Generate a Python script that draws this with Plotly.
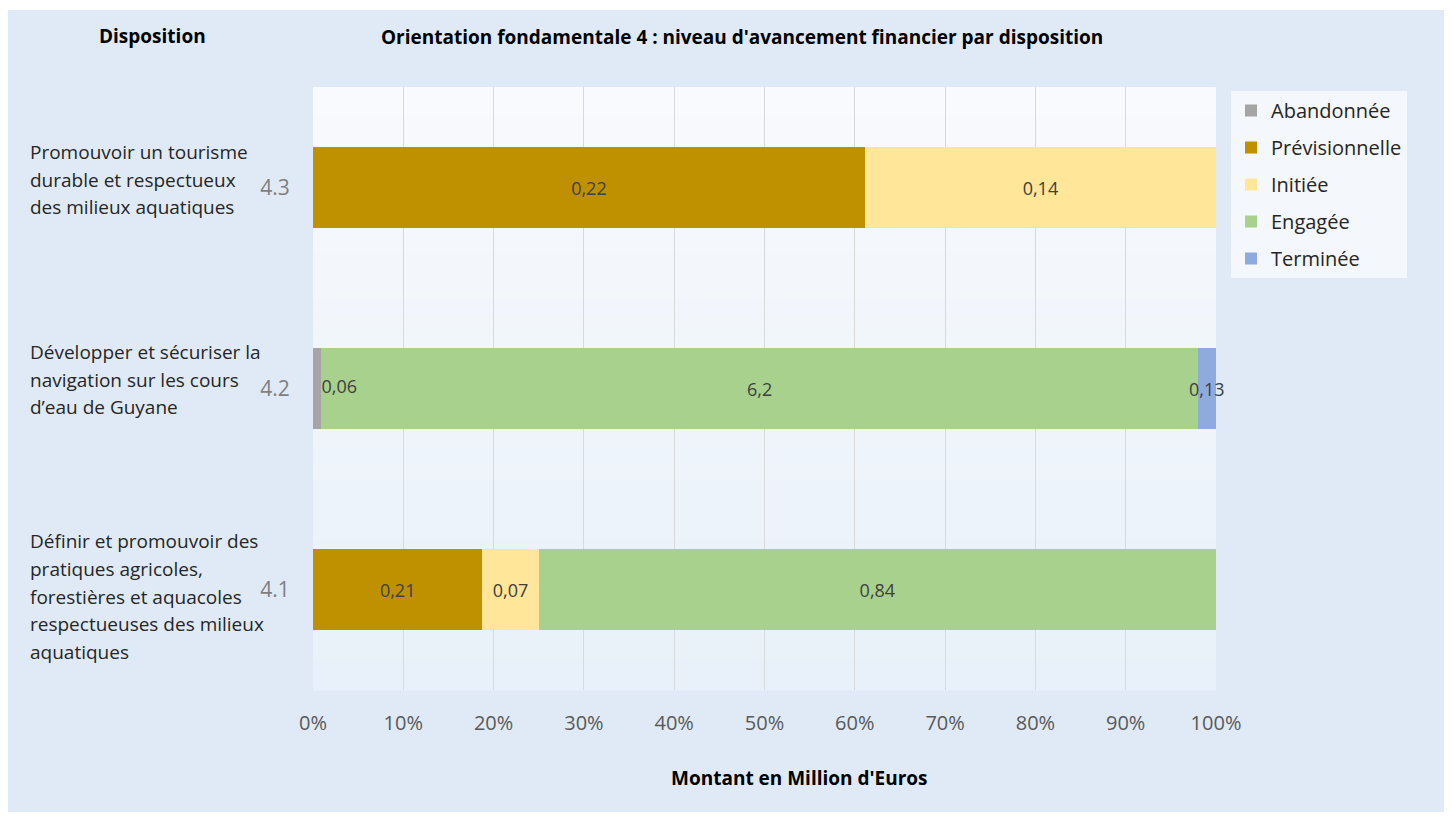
import plotly.graph_objects as go

# ---- data ----
categories = ["4.1", "4.2", "4.3"]
descriptions = [
    "Définir et promouvoir des<br>pratiques agricoles,<br>forestières et aquacoles<br>respectueuses des milieux<br>aquatiques",
    "Développer et sécuriser la<br>navigation sur les cours<br>d’eau de Guyane",
    "Promouvoir un tourisme<br>durable et respectueux<br>des milieux aquatiques",
]
series_names = ["Abandonnée", "Prévisionnelle", "Initiée", "Engagée", "Terminée"]
abandonnee = [None, 0.06, None]
previsionnelle = [0.21, None, 0.22]
initiee = [0.07, None, 0.14]
engagee = [0.84, 6.2, None]
terminee = [None, 0.13, None]
series_values = [abandonnee, previsionnelle, initiee, engagee, terminee]
series_colors = ["#a5a5a5", "#bf9000", "#ffe699", "#a9d18e", "#8faadc"]
x_ticks = list(range(0, 101, 10))
x_tick_labels = [f"{t}%" for t in x_ticks]

FONT = "Open Sans"
OFF = 8                      # page body margin
W, H = 1438, 804             # figure size
L, R, T, B = 313, 1216, 87, 690  # plot area in screenshot px


def px_x(x):
    return (x - L) / (R - L)


def px_y(y):
    return (B - y) / (B - T)


def fmt(v):
    return "" if v is None else (f"{v:g}").replace(".", ",")


totals = [sum(s[j] or 0 for s in series_values) for j in range(len(categories))]

fig = go.Figure()
for i, (name, vals, col) in enumerate(zip(series_names, series_values, series_colors)):
    fig.add_trace(go.Bar(
        y=categories, x=vals, name=name, orientation="h",
        marker=dict(color=col, line=dict(width=0)),
        text=[fmt(v) for v in vals] if i > 0 else None,
        textposition="inside", textangle=0,
        insidetextanchor="middle", constraintext="none",
        cliponaxis=False,
        textfont=dict(family=FONT, size=18, color="#404040"),
        legendgroup=f"g{i}", hoverinfo="x+y+name",
    ))

# labels of the first (thin) segment, drawn on top of the following bars
first_end = [(v / t * 100) if v is not None else None for v, t in zip(abandonnee, totals)]
fig.add_trace(go.Scatter(
    y=categories, x=first_end, mode="text", text=[fmt(v) for v in abandonnee],
    textposition="middle right", cliponaxis=False, showlegend=False, hoverinfo="skip",
    textfont=dict(family=FONT, size=18, color="#404040"),
))

shapes = []
# outer background
shapes.append(dict(type="rect", xref="paper", yref="paper", layer="below",
                   x0=px_x(6), x1=px_x(1446), y0=px_y(812), y1=px_y(10),
                   fillcolor="#dfeaf6", line=dict(width=0)))
# plot area gradient
n = 40
top = (248, 250, 253)
bot = (232, 240, 249)
for k in range(n):
    f = k / (n - 1)
    c = tuple(round(top[j] + (bot[j] - top[j]) * f) for j in range(3))
    shapes.append(dict(type="rect", xref="paper", yref="paper", layer="below",
                       x0=0, x1=1, y0=1 - (k + 1) / n - 0.001, y1=1 - k / n,
                       fillcolor=f"rgb{c}", line=dict(width=0)))

annotations = [
    dict(text="<b>Disposition</b>", x=px_x(152), y=px_y(36), xref="paper", yref="paper",
         xanchor="center", yanchor="middle",
         showarrow=False, font=dict(family=FONT, size=19, color="#000000")),
    dict(text="<b>Orientation fondamentale 4 : niveau d'avancement financier par disposition</b>",
         x=px_x(742), y=px_y(37), xref="paper", yref="paper",
         xanchor="center", yanchor="middle",
         showarrow=False, font=dict(family=FONT, size=19, color="#000000")),
    dict(text="<b>Montant en Million d'Euros</b>", x=px_x(799), y=px_y(778),
         xref="paper", yref="paper", showarrow=False,
         xanchor="center", yanchor="middle",
         font=dict(family=FONT, size=19, color="#000000")),
]
line_h = 27.8
block_offsets = [-7, 9, 8]
for idx, (desc, off) in enumerate(zip(descriptions, block_offsets)):
    lines = desc.split("<br>")
    m = len(lines)
    for i, ln in enumerate(lines):
        annotations.append(dict(
            text=ln, x=px_x(28), y=idx, xref="paper", yref="y",
            xanchor="left", yanchor="middle", showarrow=False,
            yshift=((m - 1) / 2 - i) * line_h + off,
            font=dict(family=FONT, size=19, color="#262626")))

fig.update_layout(
    width=W, height=H,
    margin=dict(l=L - OFF, r=(W + OFF) - R, t=T - OFF, b=(H + OFF) - B, pad=0),
    paper_bgcolor="#ffffff", plot_bgcolor="rgba(0,0,0,0)",
    barmode="stack", barnorm="percent", bargap=0.597,
    showlegend=True,
    legend=dict(x=px_x(1231), y=px_y(91), xanchor="left", yanchor="top",
                bgcolor="#f4f7fb", traceorder="grouped", tracegroupgap=8,
                font=dict(family=FONT, size=20, color="#262626"),
                itemwidth=30),
    xaxis=dict(range=[0, 100], tickvals=x_ticks, ticktext=x_tick_labels,
               showgrid=True, gridcolor="#d9d9d9", gridwidth=1, zeroline=False,
               ticks="outside", ticklen=15, tickcolor="rgba(0,0,0,0)",
               tickfont=dict(family=FONT, size=20, color="#595959"),
               showline=False, fixedrange=True),
    yaxis=dict(type="category", showgrid=False, zeroline=False, ticks="outside",
               ticklen=18, tickcolor="rgba(0,0,0,0)", range=[-0.5, 2.5],
               tickfont=dict(family=FONT, size=21, color="#7f7f7f"),
               categoryorder="array", categoryarray=categories, fixedrange=True),
    shapes=shapes, annotations=annotations,
    font=dict(family=FONT),
)

fig.write_html("out.html")
